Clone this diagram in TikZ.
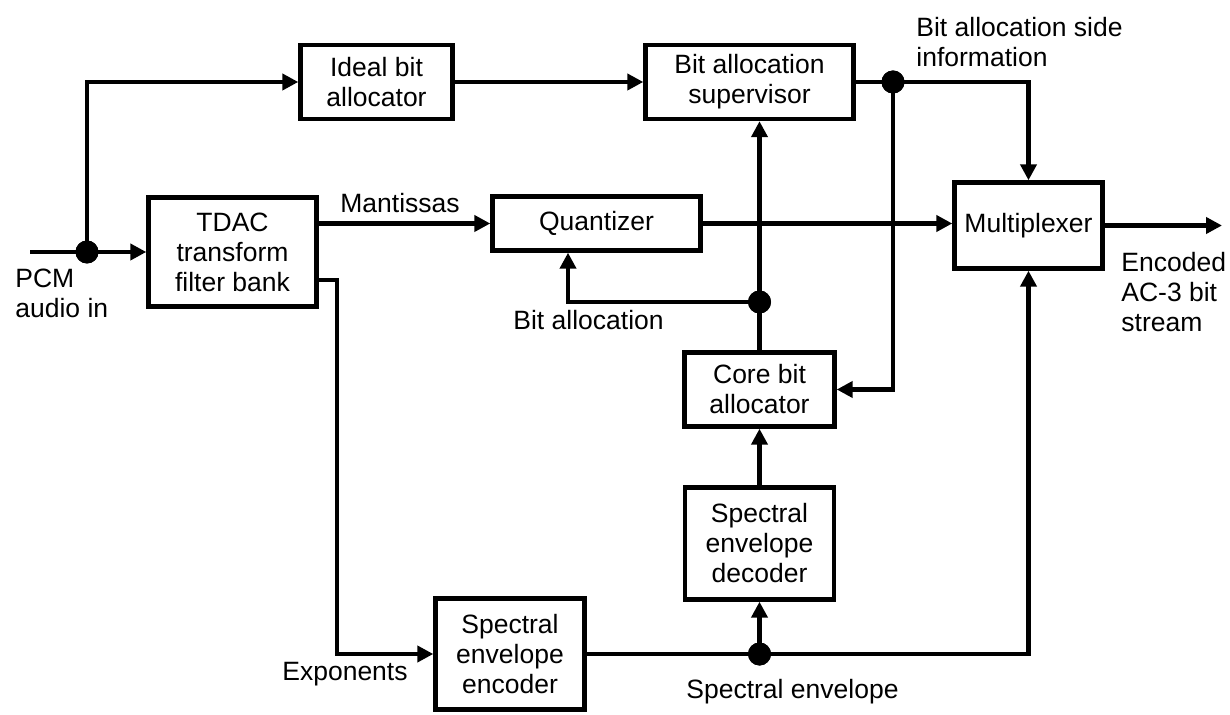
\documentclass[tikz,border=0pt]{standalone}
\usepackage{fontspec}
\setmainfont{Liberation Sans}
\usetikzlibrary{arrows.meta,calc}
\begin{document}
\begin{tikzpicture}[x=0.5pt,y=-0.5pt,
  txt/.style={font=\fontsize{13.25pt}{15pt}\selectfont, inner sep=0pt, align=left},
  block/.style={txt, draw, line width=2.2pt, align=center, rectangle},
  wire/.style={line width=2.4pt},
  arrow/.style={wire, -{Triangle[length=8pt,width=8pt]}},
  dot/.style={circle, fill, inner sep=0pt, minimum size=11.5pt}]
\useasboundingbox (0,0) rectangle (1230,715);

% processing blocks
\node[block, minimum width=76pt,   minimum height=37pt]   (ideal) at (376.5,82)    {Ideal bit\\allocator};
\node[block, minimum width=104pt,  minimum height=37pt]   (sup)   at (749.5,82)    {Bit allocation\\supervisor};
\node[block, minimum width=84pt,   minimum height=54.5pt] (tdac)  at (232.5,252)   {TDAC\\transform\\filter bank};
\node[block, minimum width=104pt,  minimum height=27pt]   (quant) at (596.5,223.5) {Quantizer};
\node[block, minimum width=74pt,   minimum height=43pt]   (mux)   at (1028.5,225.5){Multiplexer};
\node[block, minimum width=75pt,   minimum height=37pt]   (core)  at (759.5,389.5) {Core bit\\allocator};
\node[block, minimum width=74.5pt, minimum height=56pt]   (dec)   at (759.5,543.5) {Spectral\\envelope\\decoder};
\node[block, minimum width=74.5pt, minimum height=55.5pt] (enc)   at (510,654)     {Spectral\\envelope\\encoder};

% branch points and free ends
\coordinate (pcm) at (30,252);
\coordinate (out) at (1222,225.5);
\coordinate (expbend) at (337,280);
\coordinate (qin) at (568,302);
\node[dot] (jin)   at (87,252) {};
\node[dot] (jside) at (893,82) {};
\node[dot] (jba)   at (759.5,302) {};
\node[dot] (jenv)  at (759.5,654) {};

% signal paths
\draw[arrow] (pcm) -- (tdac.west);
\draw[arrow] (jin.center) |- (ideal.west);
\draw[arrow] (ideal.east) -- (sup.west);
\draw[arrow] (sup.east) -| (mux.north);
\draw[arrow] (jside.center) |- (core.east);
\draw[arrow] (tdac.east |- quant.west) -- (quant.west);
\draw[arrow] (quant.east) -- (quant.east -| mux.west);
\draw[arrow] (tdac.east |- expbend) -- (expbend) |- (enc.west);
\draw[wire]  (core.north) -- (jba.center);
\draw[arrow] (jba.center) -- (jba |- sup.south);
\draw[arrow] (jba.center) -| (qin |- quant.south);
\draw[arrow] (dec.north) -- (dec.north |- core.south);
\draw[arrow] (enc.east) -| (mux.south);
\draw[arrow] (jenv.center) -- (dec.south);
\draw[arrow] (mux.east) -- (out);

% redraw junction dots on top
\node[dot] at (jin) {};
\node[dot] at (jside) {};
\node[dot] at (jba) {};
\node[dot] at (jenv) {};

% signal labels
\node[txt, anchor=north west] (lpcm)  at (15,269)   {PCM\\audio in};
\node[txt, anchor=north west] (lside) at (916,17)   {Bit allocation side\\information};
\node[txt, anchor=base]       (lman)  at (400,213)  {Mantissas};
\node[txt, anchor=base west]  (lba)   at (513,330)  {Bit allocation};
\node[txt, anchor=base east]  (lexp)  at (408,680)  {Exponents};
\node[txt, anchor=base west]  (lenv)  at (686,698)  {Spectral envelope};
\node[txt, anchor=north west] (lout)  at (1121,252) {Encoded\\AC-3 bit\\stream};
\end{tikzpicture}
\end{document}
